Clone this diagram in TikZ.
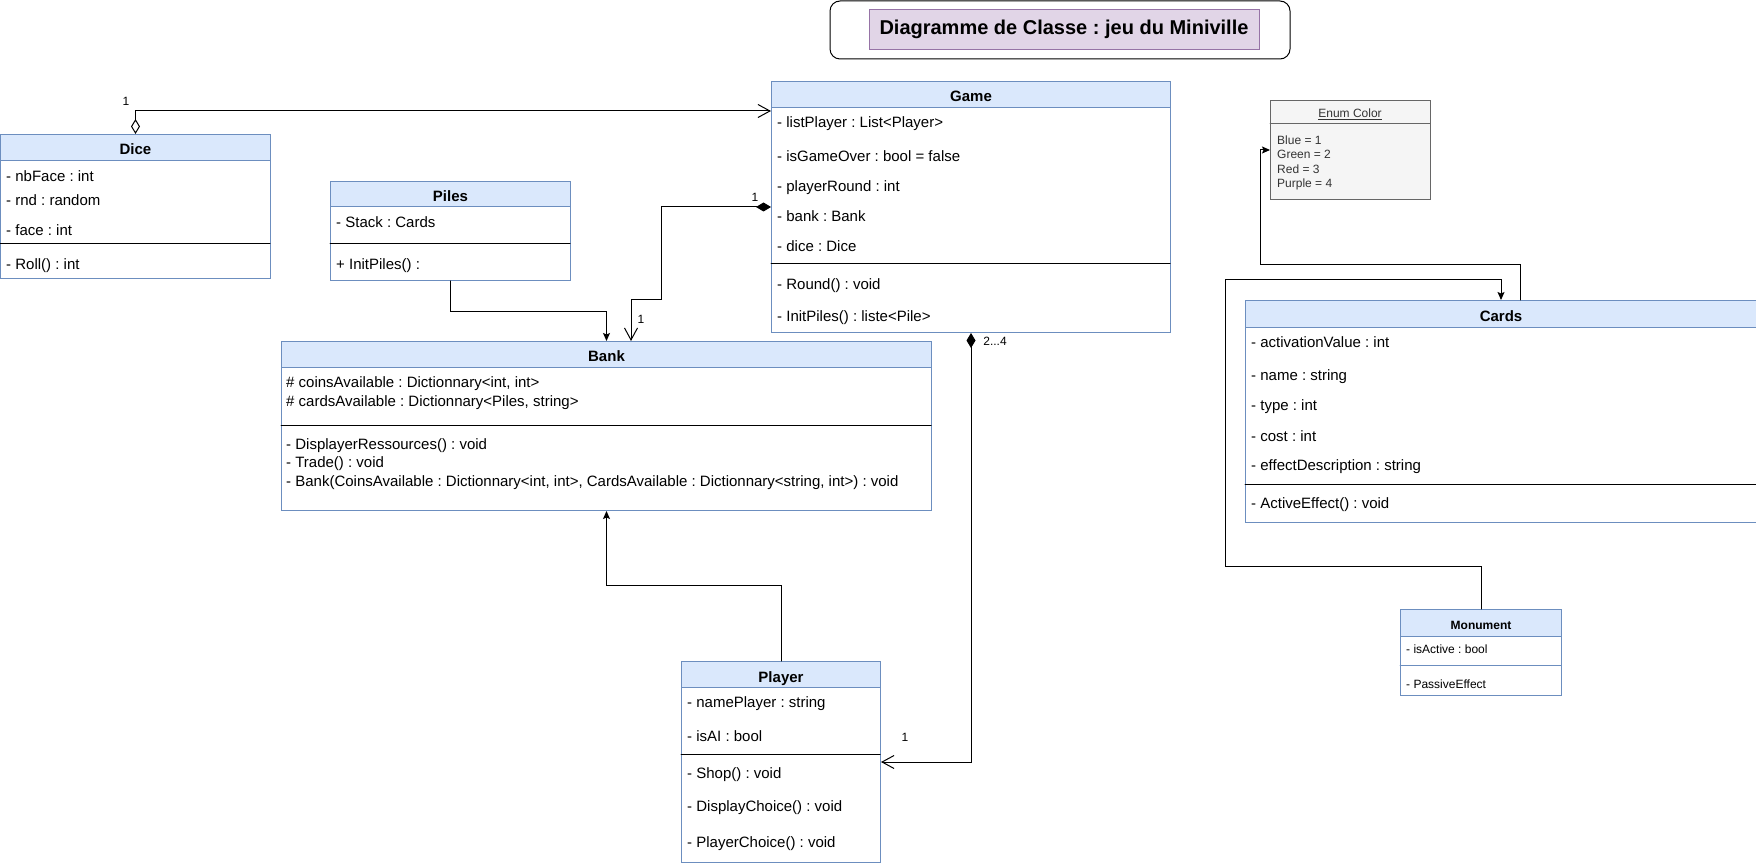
\documentclass[tikz,border=0pt]{standalone}
\usepackage{fontspec}
\setmainfont{Liberation Sans}
\usetikzlibrary{arrows.meta, calc}
\definecolor{headfill}{RGB}{218,232,252}
\definecolor{headline}{RGB}{108,142,191}
\definecolor{titlefill}{RGB}{225,213,231}
\definecolor{titleline}{RGB}{150,115,166}
\definecolor{enumfill}{RGB}{245,245,245}
\definecolor{enumline}{RGB}{102,102,102}
\definecolor{enumtext}{RGB}{51,51,51}
\frenchspacing

\tikzset{
  classbox/.style={draw=headline, fill=white, line width=1pt, anchor=north west, inner sep=0pt},
  classhead/.style={draw=headline, fill=headfill, line width=1pt, anchor=north west, inner sep=0pt, text height=15pt, text depth=0pt, font=\fontsize{15}{18}\selectfont\bfseries},
  member/.style={anchor=west, inner sep=0pt, text height=11pt, text depth=3pt, yshift=-1.5pt, font=\fontsize{15}{18}\selectfont},
  smallhead/.style={classhead, text height=12pt, text depth=0pt, font=\fontsize{12}{14}\selectfont\bfseries},
  smallmember/.style={member, text height=9pt, text depth=2.5pt, yshift=-1pt, font=\fontsize{12}{14}\selectfont},
  enumbox/.style={draw=enumline, fill=enumfill, line width=1pt, anchor=north west, inner sep=0pt},
  sepline/.style={draw=black, line width=1pt},
  titleframe/.style={draw=black, fill=white, line width=1pt, rounded corners=10pt, inner sep=0pt},
  titlebox/.style={draw=titleline, fill=titlefill, line width=1pt, inner sep=0pt, text height=14pt, text depth=5pt, font=\fontsize{20}{24}\selectfont\bfseries},
  mult/.style={inner sep=0pt, font=\fontsize{12}{14}\selectfont},
  aggr/.style={draw, line width=1pt, {Diamond[open,length=15pt,width=9pt]}-{Straight Barb[length=12pt,width=13pt]}},
  comp/.style={draw, line width=1pt, {Diamond[length=15pt,width=9pt]}-{Straight Barb[length=12pt,width=13pt]}},
  assoc/.style={draw, line width=1pt, -{Stealth[length=8pt,width=7pt,inset=1.5pt]}}
}

\begin{document}
\begin{tikzpicture}[x=1pt, y=-1pt, line cap=round]
        \useasboundingbox (0,0) rectangle (1756,866);

        % title
        \node[titleframe, minimum width=460pt, minimum height=58pt] (frame) at (1060,30) {};
        \node[titlebox, minimum width=390pt, minimum height=40pt] (title) at (1064,30) {Diagramme de Classe : jeu du Miniville};

        % Dice
        \node[classbox, minimum width=270pt, minimum height=144pt] (dice) at (0,134) {};
        \node[classhead, minimum width=270pt, minimum height=26pt] (diceHead) at (0,134) {Dice};
        \node[member] (diceNbFace) at (6,176) {- nbFace : int};
        \node[member] (diceRnd) at (6,200) {- rnd : random};
        \node[member] (diceFace) at (6,230) {- face : int};
        \draw[sepline] (0,244) -- (270,244);
        \node[member] (diceRoll) at (6,264) {- Roll() : int};

        % Piles
        \node[classbox, minimum width=240pt, minimum height=99pt] (piles) at (330,181) {};
        \node[classhead, minimum width=240pt, minimum height=25pt] (pilesHead) at (330,181) {Piles};
        \node[member] (pilesStack) at (336,222) {- Stack : Cards};
        \draw[sepline] (330,244) -- (570,244);
        \node[member] (pilesInit) at (336,264) {+ InitPiles() :};

        % Game
        \node[classbox, minimum width=399pt, minimum height=251pt] (game) at (771,81) {};
        \node[classhead, minimum width=399pt, minimum height=26pt] (gameHead) at (771,81) {Game};
        \node[member] (gameListPlayer) at (777,122) {- listPlayer : List<Player>};
        \node[member] (gameIsOver) at (777,156) {- isGameOver : bool = false};
        \node[member] (gamePlayerRound) at (777,186) {- playerRound : int};
        \node[member] (gameBank) at (777,216) {- bank : Bank};
        \node[member] (gameDice) at (777,246) {- dice : Dice};
        \draw[sepline] (771,264) -- (1170,264);
        \node[member] (gameRound) at (777,284) {- Round() : void};
        \node[member] (gameInitPiles) at (777,316) {- InitPiles() : liste<Pile>};

        % Bank
        \node[classbox, minimum width=650pt, minimum height=169pt] (bank) at (281,341) {};
        \node[classhead, minimum width=650pt, minimum height=26pt] (bankHead) at (281,341) {Bank};
        \node[member] (bankCoins) at (286,382) {\# coinsAvailable : Dictionnary<int, int>};
        \node[member] (bankCards) at (286,401) {\# cardsAvailable : Dictionnary<Piles, string>};
        \draw[sepline] (281,425) -- (931,425);
        \node[member] (bankDisplay) at (286,444) {- DisplayerRessources() : void};
        \node[member] (bankTrade) at (286,462) {- Trade() : void};
        \node[member] (bankBuild) at (286,481) {- Bank(CoinsAvailable : Dictionnary<int, int>, CardsAvailable : Dictionnary<string, int>) : void};

        % Player
        \node[classbox, minimum width=199pt, minimum height=201pt] (player) at (681,661) {};
        \node[classhead, minimum width=199pt, minimum height=26pt] (playerHead) at (681,661) {Player};
        \node[member] (playerName) at (687,702) {- namePlayer : string};
        \node[member] (playerAI) at (687,736) {- isAI : bool};
        \draw[sepline] (681,754) -- (880,754);
        \node[member] (playerShop) at (687,773) {- Shop() : void};
        \node[member] (playerDisplay) at (687,806) {- DisplayChoice() : void};
        \node[member] (playerChoice) at (687,842) {- PlayerChoice() : void};

        % Cards
        \node[classbox, minimum width=511pt, minimum height=222pt] (cards) at (1245,300) {};
        \node[classhead, minimum width=511pt, minimum height=27pt] (cardsHead) at (1245,300) {Cards};
        \node[member] (cardsValue) at (1251,342) {- activationValue : int};
        \node[member] (cardsName) at (1251,375) {- name : string};
        \node[member] (cardsType) at (1251,405) {- type : int};
        \node[member] (cardsCost) at (1251,436) {- cost : int};
        \node[member] (cardsEffect) at (1251,465) {- effectDescription : string};
        \draw[sepline] (1245,484) -- (1756,484);
        \node[member] (cardsActive) at (1251,503) {- ActiveEffect() : void};

        % Enum Color
        \node[enumbox, minimum width=160pt, minimum height=99pt] (enum) at (1270,100) {};
        \draw[draw=enumline, line width=1pt] (1270,124) -- (1430,124);
        \node[smallmember, anchor=center, text=enumtext] (enumHead) at (1350,112) {\underline{Enum Color}};
        \node[smallmember, text=enumtext] (enumBlue) at (1277,139) {Blue = 1};
        \node[smallmember, text=enumtext] (enumGreen) at (1277,153) {Green = 2};
        \node[smallmember, text=enumtext] (enumRed) at (1277,168) {Red = 3};
        \node[smallmember, text=enumtext] (enumPurple) at (1277,182) {Purple = 4};

        % Monument
        \node[classbox, minimum width=161pt, minimum height=86pt] (monument) at (1400,609) {};
        \node[smallhead, minimum width=161pt, minimum height=27pt] (monumentHead) at (1400,609) {Monument};
        \node[smallmember] (monumentActive) at (1406,648) {- isActive : bool};
        \draw[draw=headline, line width=1pt] (1400,665) -- (1561,665);
        \node[smallmember] (monumentPassive) at (1406,683) {- PassiveEffect};

        % links
        \coordinate (gameIn) at (771,111);
        \coordinate (bendA) at (661,300);
        \coordinate (bankIn) at (631,341);
        \coordinate (cardsOut) at (1520,300);
        \coordinate (bendC) at (1260,265);
        \coordinate (bendD) at (1225,566);
        \coordinate (bendE) at (1225,280);
        \coordinate (cardsIn) at (1501,300);

        \draw[aggr] (dice.north) |- (gameIn);
        \draw[comp] (game.west) -| (bendA) -| (bankIn);
        \draw[assoc] (piles.south) -- ++(0,31) -| (bank.north);
        \draw[assoc] (player.north) -- ++(0,-76) -| (bank.south);
        \draw[comp] (game.south) |- (player.east);
        \draw[assoc] (cardsOut) |- (bendC) |- (enum.west);
        \draw[assoc] (monument.north) |- (bendD) -- (bendE) -| (cardsIn);

        \node[mult] (multDice) at (126,101) {1};
        \node[mult] (multGame) at (755,197) {1};
        \node[mult] (multBank) at (641,319) {1};
        \node[mult] (multPlayers) at (995,341) {2...4};
        \node[mult] (multPlayer) at (905,737) {1};
    \end{tikzpicture}
\end{document}
